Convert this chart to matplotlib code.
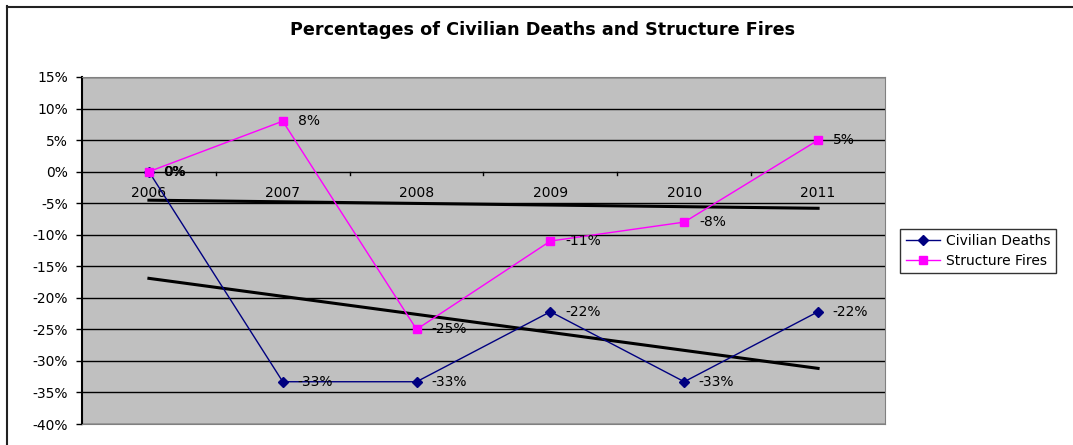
import numpy as np
import matplotlib.pyplot as plt
from matplotlib.lines import Line2D

# Chart data
years = ['2006', '2007', '2008', '2009', '2010', '2011']
civilian_deaths = [0.0, -33.3, -33.3, -22.2, -33.3, -22.2]
structure_fires = [0.0, 8.0, -25.0, -11.0, -8.0, 5.0]
y_ticks = [15, 10, 5, 0, -5, -10, -15, -20, -25, -30, -35, -40]

plt.rcParams['font.family'] = ['DejaVu Sans']

fig = plt.figure(figsize=(10.73, 4.45), dpi=100)
W, H = 1073, 445
ax = fig.add_axes([82 / W, 1 - 424 / H, (885 - 82) / W, (424 - 77) / H])
ax.set_facecolor('#C0C0C0')

x = np.arange(len(years))

# horizontal gridlines
for t in y_ticks:
    ax.axhline(t, color='black', lw=1.0, zorder=1)

ax.plot(x, civilian_deaths, color='#000080', marker='D', markersize=5, lw=1, zorder=4,
        label='Civilian Deaths')
ax.plot(x, structure_fires, color='#FF00FF', marker='s', markersize=6, lw=1, zorder=4,
        label='Structure Fires')

# linear trendlines
for series in (civilian_deaths, structure_fires):
    k, b = np.polyfit(x, series, 1)
    ax.plot([x[0], x[-1]], [b, k * x[-1] + b], color='black', lw=2.2, zorder=3)

# data labels
for xi, v in zip(x, civilian_deaths):
    ax.annotate(f'{v:.0f}%', (xi, v), xytext=(10.5, 0), textcoords='offset points',
                ha='left', va='center', fontsize=10, zorder=5)
for xi, v in zip(x, structure_fires):
    ax.annotate(f'{v:.0f}%', (xi, v), xytext=(11, 0), textcoords='offset points',
                ha='left', va='center', fontsize=10, zorder=5)

ax.set_xlim(-0.5, 5.5)
ax.set_ylim(-40, 15)
ax.set_yticks(y_ticks)
ax.set_yticklabels([f'{t}%' for t in y_ticks], fontsize=10)
ax.tick_params(axis='y', length=4, width=1, pad=6)

# category axis sits on the 0% line
ax.set_xticks([])
for xb in np.arange(-0.5, 5.6, 1.0)[1:-1]:
    ax.plot([xb, xb], [0, -0.5], color='black', lw=1, zorder=2)
for xi, lab in zip(x, years):
    ax.text(xi, -2.3, lab, ha='center', va='top', fontsize=10, zorder=2)

for side in ('top', 'right', 'bottom'):
    ax.spines[side].set_color('#808080')
ax.spines['left'].set_color('black')
ax.spines['left'].set_linewidth(1.5)

fig.text(543 / W, 1 - 30 / H, 'Percentages of Civilian Deaths and Structure Fires',
         ha='center', va='center', fontsize=12.7, fontweight='bold')

handles = [Line2D([], [], color='#000080', marker='D', markersize=5, lw=1),
           Line2D([], [], color='#FF00FF', marker='s', markersize=6, lw=1)]
leg = fig.legend(handles, ['Civilian Deaths', 'Structure Fires'],
                 loc='center left', bbox_to_anchor=(900 / W, 1 - 251 / H),
                 frameon=True, fancybox=False, fontsize=10, handlelength=2.5,
                 borderpad=0.4, labelspacing=0.4, handletextpad=0.4, borderaxespad=0)
leg.get_frame().set_edgecolor('black')
leg.get_frame().set_linewidth(1)

# outer chart border
fig.add_artist(Line2D([7 / W, 7 / W], [0, 1 - 6 / H], color='#222222', lw=1.5))
fig.add_artist(Line2D([7 / W, 1], [1 - 6.5 / H, 1 - 6.5 / H], color='#222222', lw=1.5))

fig.savefig('out.png', dpi=100)
